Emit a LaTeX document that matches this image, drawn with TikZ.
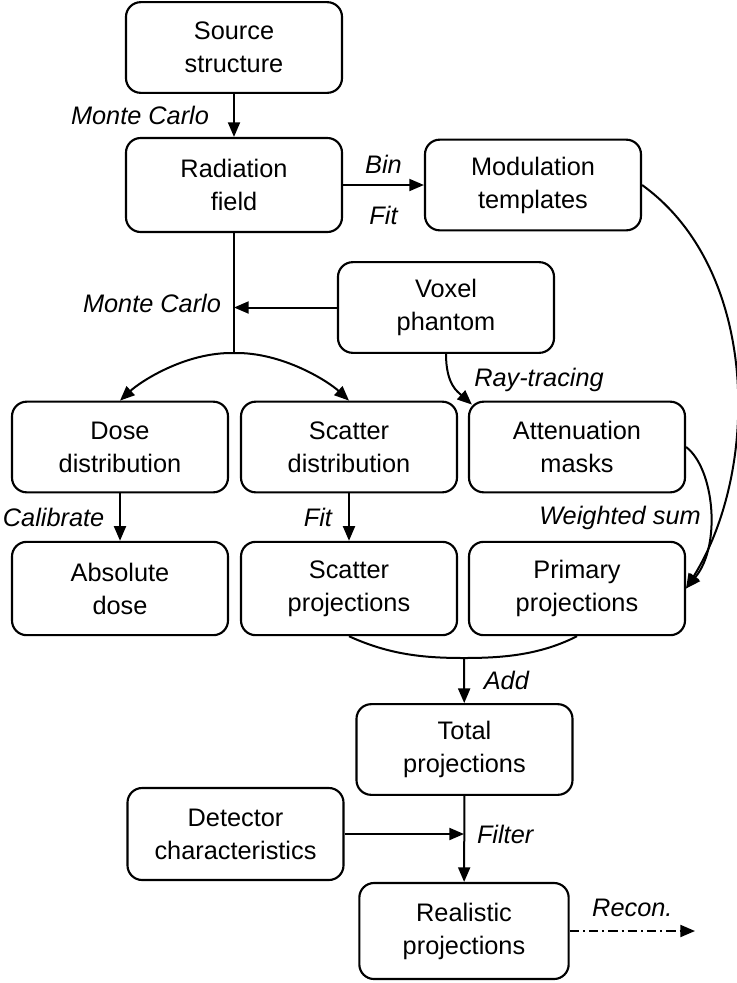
\documentclass[tikz,border=0pt]{standalone}
\usepackage{fontspec}
\setmainfont{Liberation Sans}
\usetikzlibrary{arrows.meta,calc}
\begin{document}
\begin{tikzpicture}[x=0.75pt,y=-0.75pt,
 box/.style={draw,line width=1.6pt,rounded corners=11pt,minimum width=162pt,minimum height=68pt,align=center,font=\fontsize{19}{24.75}\selectfont,inner sep=0pt},
 lbl/.style={font=\fontsize{19}{24}\selectfont\itshape,inner sep=0pt},
 ln/.style={line width=1.5pt},
 arr/.style={line width=1.5pt,-{Triangle[length=11pt,width=9pt]}},
 dashdot/.style={dash pattern=on 7pt off 3pt on 1.5pt off 3pt}]
\useasboundingbox (0,0) rectangle (737,983);

\node[box] (src) at (234,47.5) {Source\\structure};
\node[box,minimum height=70.5pt] (rad) at (234,185) {Radiation\\field};
\node[box] (mod) at (533,185) {Modulation\\templates};
\node[box] (vox) at (446,307.5) {Voxel\\phantom};
\node[box] (dose) at (120,447) {Dose\\distribution};
\node[box] (sdist) at (349,447) {Scatter\\distribution};
\node[box] (att) at (577,447) {Attenuation\\masks};
\node[box,minimum height=70pt] (abs) at (120,588.5) {Absolute\\dose};
\node[box,minimum height=70pt] (sproj) at (349,588.5) {Scatter\\projections};
\node[box,minimum height=70pt] (pproj) at (577,588.5) {Primary\\projections};
\node[box] (total) at (464.5,749.5) {Total\\projections};
\node[box,minimum height=69pt] (det) at (235.5,834) {Detector\\characteristics};
\node[box,minimum height=72pt,minimum width=157pt] (real) at (464,931) {Realistic\\projections};

\coordinate (split) at (234,353);
\coordinate (mc) at (234,307.5);
\coordinate (addpt) at (464,658);
\coordinate (fpt) at (464,834);
\coordinate (rend) at (695,931);

\draw[arr] (src) -- (rad) node[lbl,midway,left=18pt] (lmc1) {Monte Carlo};
\draw[arr] (rad) -- (mod) node[lbl,midway,above=8pt] (lbin) {Bin} node[lbl,midway,below=15pt] (lfit1) {Fit};
\draw[ln] (rad) -- (split);
\draw[arr] (vox.west) -- (mc) node[lbl,pos=1,left=9pt,yshift=3pt] (lmc2) {Monte Carlo};
\draw[arr] (split) .. controls (185,352) and (140,382) .. (dose.north);
\draw[arr] (split) .. controls (283,352) and (329,382) .. (sdist.north);
\draw[arr] (vox.south) .. controls (446,385) and (458,392) .. ($(att.north west)+(4,4)$);
\node[lbl,anchor=west] (lray) at (474,380) {Ray-tracing};
\draw[arr] (dose) -- (abs) node[lbl,midway,left=11pt] (lcal) {Calibrate};
\draw[arr] (sdist) -- (sproj) node[lbl,midway,left=12pt] (lfit2) {Fit};
\draw[arr] (att.east) .. controls (714,468) and (722,545) .. (pproj.east);
\draw[arr] (mod.east) .. controls (760,270) and (760,470) .. (pproj.east);
\node[lbl] (lws) at (620,518) {Weighted sum};
\draw[ln] (sproj.south) .. controls (390,655) and (425,658) .. (addpt) .. controls (503,658) and (540,655) .. (pproj.south);
\draw[arr] (addpt) -- (total) node[lbl,midway,right=14pt] (ladd) {Add};
\draw[arr] (total) -- (real);
\draw[arr] (det.east) -- (fpt) node[lbl,pos=1,right=9pt] (lfil) {Filter};
\draw[arr,dashdot] (real.east |- rend) -- (rend) node[lbl,midway,above=10pt] (lrec) {Recon.};
\end{tikzpicture}
\end{document}
